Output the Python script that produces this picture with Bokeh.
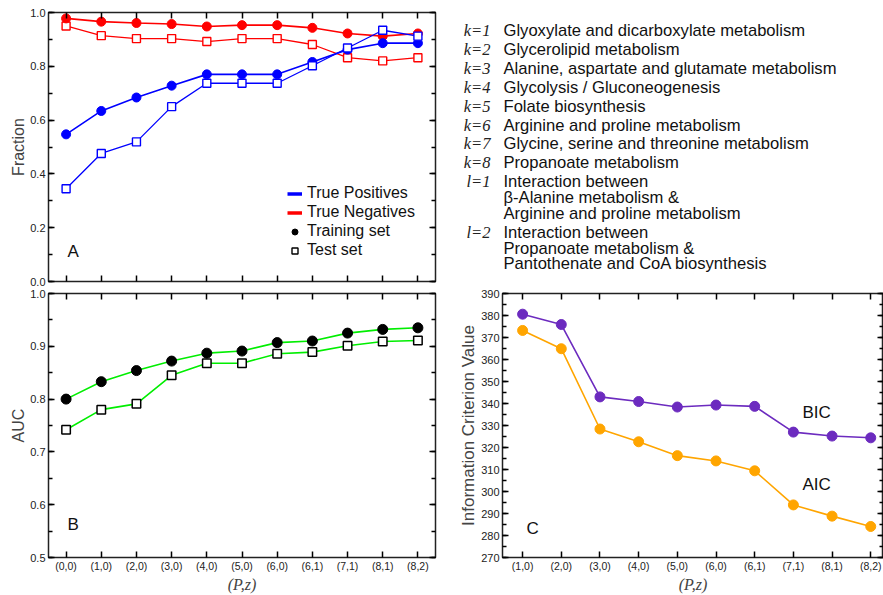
from bokeh.plotting import figure
from bokeh.layouts import row, column
from bokeh.models import (Range1d, LinearAxis, FixedTicker, SingleIntervalTicker,
                          CustomJSTickFormatter, PrintfTickFormatter, Legend, LegendItem, Label)
from bokeh.core.properties import value
from bokeh.embed import file_html
from bokeh.resources import INLINE

# ---------------- data ----------------
pz_ab = ["(0,0)", "(1,0)", "(2,0)", "(3,0)", "(4,0)", "(5,0)", "(6,0)", "(6,1)", "(7,1)", "(8,1)", "(8,2)"]
tp_train = [0.547, 0.634, 0.684, 0.728, 0.770, 0.770, 0.770, 0.816, 0.862, 0.886, 0.886]
tp_test = [0.345, 0.476, 0.519, 0.650, 0.737, 0.737, 0.737, 0.802, 0.868, 0.934, 0.912]
tn_train = [0.978, 0.966, 0.961, 0.957, 0.948, 0.953, 0.953, 0.943, 0.922, 0.912, 0.922]
tn_test = [0.950, 0.914, 0.903, 0.903, 0.892, 0.903, 0.903, 0.881, 0.832, 0.820, 0.832]
auc_train = [0.800, 0.833, 0.854, 0.872, 0.887, 0.891, 0.907, 0.910, 0.925, 0.932, 0.935]
auc_test = [0.742, 0.780, 0.791, 0.845, 0.868, 0.868, 0.886, 0.889, 0.901, 0.909, 0.911]

pz_c = ["(1,0)", "(2,0)", "(3,0)", "(4,0)", "(5,0)", "(6,0)", "(6,1)", "(7,1)", "(8,1)", "(8,2)"]
bic = [380.6, 375.9, 343.0, 340.9, 338.4, 339.3, 338.7, 327.0, 325.2, 324.4]
aic = [373.2, 364.9, 328.4, 322.6, 316.3, 313.9, 309.4, 293.9, 288.8, 284.1]

path_keys = ["k=1", "k=2", "k=3", "k=4", "k=5", "k=6", "k=7", "k=8", "l=1", "l=2"]
path_names = [
    ["Glyoxylate and dicarboxylate metabolism"],
    ["Glycerolipid metabolism"],
    ["Alanine, aspartate and glutamate metabolism"],
    ["Glycolysis / Gluconeogenesis"],
    ["Folate biosynthesis"],
    ["Arginine and proline metabolism"],
    ["Glycine, serine and threonine metabolism"],
    ["Propanoate metabolism"],
    ["Interaction between", "\u03b2-Alanine metabolism &", "Arginine and proline metabolism"],
    ["Interaction between", "Propanoate metabolism &", "Pantothenate and CoA biosynthesis"],
]

SANS = "Liberation Sans"
SERIF = "Liberation Serif"
TICK_FS = "11px"
NAN = float("nan")


def tick_style(ax, labels=True):
    ax.axis_line_color = None
    ax.major_tick_in = 6
    ax.major_tick_out = 0
    ax.minor_tick_in = 4
    ax.minor_tick_out = 0
    ax.major_tick_line_color = "black"
    ax.major_tick_line_width = 1.5
    ax.minor_tick_line_color = "black"
    ax.minor_tick_line_width = 1.5
    ax.major_label_text_font = SANS
    ax.major_label_text_font_size = TICK_FS
    ax.major_label_text_color = "#222222"
    if not labels:
        ax.formatter = CustomJSTickFormatter(code="return ''")
        ax.major_label_standoff = 0
        ax.major_label_text_font_size = "1px"
    else:
        ax.major_label_standoff = 3


def add_axes(p, n, y_ticker, y_fmt, ylabel, ylabel_fs, xlabels, xlabel):
    bx = LinearAxis(ticker=FixedTicker(ticks=list(range(n)), minor_ticks=[]))
    tick_style(bx, labels=xlabels is not None)
    if xlabels is not None:
        bx.major_label_overrides = {i: c for i, c in enumerate(xlabels)}
        bx.major_label_text_font_size = "10.5px"
        bx.major_label_standoff = 2
        bx.major_label_text_line_height = 1.0
    if xlabel:
        bx.axis_label = xlabel
        bx.axis_label_text_font = SERIF
        bx.axis_label_text_font_style = "italic"
        bx.axis_label_text_font_size = "16px"
        bx.axis_label_text_line_height = 1.0
        bx.axis_label_standoff = 1
    p.add_layout(bx, "below")
    tx = LinearAxis(ticker=FixedTicker(ticks=list(range(n)), minor_ticks=[]))
    tick_style(tx, labels=False)
    p.add_layout(tx, "above")
    ly = LinearAxis(ticker=y_ticker)
    tick_style(ly, labels=True)
    if y_fmt is not None:
        ly.formatter = y_fmt
    ly.axis_label = ylabel
    ly.axis_label_text_font = SANS
    ly.axis_label_text_font_style = "normal"
    ly.axis_label_text_font_size = ylabel_fs
    ly.axis_label_text_line_height = 1.0
    ly.axis_label_standoff = 0
    p.add_layout(ly, "left")
    ry = LinearAxis(ticker=y_ticker)
    tick_style(ry, labels=False)
    p.add_layout(ry, "right")


def base_fig(w, h, xr, yr, bl, br, bt, bb):
    p = figure(width=w, height=h, x_range=xr, y_range=yr, output_backend="svg",
               toolbar_location=None, x_axis_type=None, y_axis_type=None,
               min_border_left=bl, min_border_right=br, min_border_top=bt, min_border_bottom=bb)
    p.xgrid.visible = False
    p.ygrid.visible = False
    p.outline_line_color = "#222222"
    p.outline_line_width = 1.5
    p.background_fill_color = "white"
    p.border_fill_color = "white"
    return p


# ---------------- panel A ----------------
xa = list(range(len(pz_ab)))
pA = base_fig(450, 287, Range1d(-0.5, len(pz_ab) - 0.5), Range1d(0, 1), 48, 15, 12, 6)
add_axes(pA, len(pz_ab), SingleIntervalTicker(interval=0.2, num_minor_ticks=2),
         PrintfTickFormatter(format="%.1f"), "Fraction", "16px", None, None)

RED, BLUE = "#ff0000", "#0000ff"
pA.line(xa, tn_test, line_color=RED, line_width=1.3)
pA.scatter(xa, tn_test, marker="square", size=8, fill_color="white", line_color=RED, line_width=1.4)
pA.line(xa, tn_train, line_color=RED, line_width=1.6)
pA.scatter(xa, tn_train, marker="circle", size=9, fill_color=RED, line_color=RED)
pA.line(xa, tp_train, line_color=BLUE, line_width=1.6)
pA.scatter(xa, tp_train, marker="circle", size=9, fill_color=BLUE, line_color=BLUE)
pA.line(xa, tp_test, line_color=BLUE, line_width=1.3)
pA.scatter(xa, tp_test, marker="square", size=8, fill_color="white", line_color=BLUE, line_width=1.4)

# legend proxies (no visible data)
g1 = pA.line(x=[NAN], y=[NAN], line_color=BLUE, line_width=3.5)
g2 = pA.line(x=[NAN], y=[NAN], line_color=RED, line_width=3.5)
g3 = pA.scatter(x=[NAN], y=[NAN], marker="circle", size=10, fill_color="black", line_color="black")
g4 = pA.scatter(x=[NAN], y=[NAN], marker="square", size=8, fill_color="white", line_color="black", line_width=1.4)
leg = Legend(items=[LegendItem(label="True Positives", renderers=[g1]),
                    LegendItem(label="True Negatives", renderers=[g2]),
                    LegendItem(label="Training set", renderers=[g3]),
                    LegendItem(label="Test set", renderers=[g4])],
             location=(239, 22), border_line_color=None, background_fill_alpha=0,
             padding=0, margin=0, spacing=1, label_height=17, glyph_height=17, glyph_width=15,
             label_standoff=5, label_text_font=SANS, label_text_font_size="16px",
             label_text_color="#111111")
pA.add_layout(leg)
pA.add_layout(Label(x=0.2, y=0.112, text="A", text_font=SANS, text_font_size="17px",
                    text_align="center", text_baseline="middle", text_color="#111111"))

# ---------------- panel B ----------------
pB = base_fig(450, 308, Range1d(-0.5, len(pz_ab) - 0.5), Range1d(0.5, 1.0), 48, 15, 6, 34)
add_axes(pB, len(pz_ab), SingleIntervalTicker(interval=0.1, num_minor_ticks=2),
         PrintfTickFormatter(format="%.1f"), "AUC", "16px", pz_ab, "(P,z)")
GREEN = "#00ee00"
pB.line(xa, auc_train, line_color=GREEN, line_width=1.6)
pB.scatter(xa, auc_train, marker="circle", size=10, fill_color="black", line_color="black")
pB.line(xa, auc_test, line_color=GREEN, line_width=1.6)
pB.scatter(xa, auc_test, marker="square", size=8.5, fill_color="white", line_color="black", line_width=1.5)
pB.add_layout(Label(x=0.2, y=0.562, text="B", text_font=SANS, text_font_size="17px",
                    text_align="center", text_baseline="middle", text_color="#111111"))

# ---------------- text panel ----------------
pT = figure(width=433, height=287, x_range=Range1d(0, 433), y_range=Range1d(287, 0),
            output_backend="svg", toolbar_location=None, x_axis_type=None, y_axis_type=None,
            min_border=0)
pT.xgrid.visible = False
pT.ygrid.visible = False
pT.outline_line_color = None
key_x, key_y, name_x, name_y, name_t = [], [], [], [], []
yy = 30.0
for k, lines in zip(path_keys, path_names):
    key_x.append(40)
    key_y.append(yy)
    for j, ln in enumerate(lines):
        name_x.append(53)
        name_y.append(yy)
        name_t.append(ln)
        if j < len(lines) - 1:
            yy += 15.8
    yy += 18.9
pT.text(x=key_x, y=key_y, text=path_keys, text_font=value(SERIF), text_font_style="italic",
        text_font_size="16.5px", text_align="right", text_baseline="middle", text_color="#222222")
pT.text(x=name_x, y=name_y, text=name_t, text_font=value(SANS),
        text_font_size="16.6px", text_align="left", text_baseline="middle", text_color="#111111")

# ---------------- panel C ----------------
xc = list(range(len(pz_c)))
pC = base_fig(433, 308, Range1d(-0.52, 9.33), Range1d(270, 390), 52, 0, 6, 33)
add_axes(pC, len(pz_c), SingleIntervalTicker(interval=10, num_minor_ticks=2), None,
         "Information Criterion Value", "17px", pz_c, "(P,z)")
PURPLE, ORANGE = "#6c2bbf", "#ffa500"
pC.line(xc, bic, line_color=PURPLE, line_width=1.6)
pC.scatter(xc, bic, marker="circle", size=10, fill_color=PURPLE, line_color=PURPLE)
pC.line(xc, aic, line_color=ORANGE, line_width=1.6)
pC.scatter(xc, aic, marker="circle", size=10, fill_color=ORANGE, line_color=ORANGE)
pC.add_layout(Label(x=7.6, y=336, text="BIC", text_font=SANS, text_font_size="17px",
                    text_align="center", text_baseline="middle", text_color="#111111"))
pC.add_layout(Label(x=7.6, y=303, text="AIC", text_font=SANS, text_font_size="17px",
                    text_align="center", text_baseline="middle", text_color="#111111"))
pC.add_layout(Label(x=0.26, y=283.3, text="C", text_font=SANS, text_font_size="17px",
                    text_align="center", text_baseline="middle", text_color="#111111"))

layout = row(column(pA, pB), column(row(pT), pC))
open("out.html", "w").write(file_html(layout, INLINE))
